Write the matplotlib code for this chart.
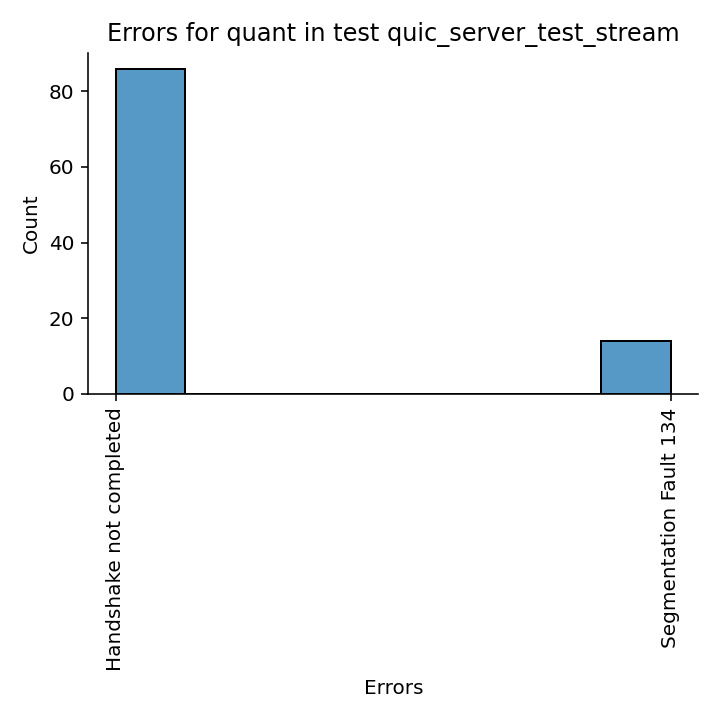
import matplotlib
matplotlib.use("Agg")
import matplotlib.pyplot as plt
import numpy as np

# error categories and how often each occurred
categories = ["Handshake not completed", "Segmentation Fault 134"]
counts = [86, 14]

codes = np.repeat(np.arange(len(categories)), counts)

fig, ax = plt.subplots(figsize=(5, 5), dpi=144)
ax.hist(codes, bins=8, facecolor=(0.122, 0.467, 0.706, 0.75),
        edgecolor="black", linewidth=1)

ax.set_xticks(np.arange(len(categories)))
ax.set_xticklabels(categories, rotation=90)
ax.set_xlabel("Errors")
ax.set_ylabel("Count")
ax.set_title("Errors for quant in test quic_server_test_stream")
ax.spines["top"].set_visible(False)
ax.spines["right"].set_visible(False)

fig.tight_layout()
fig.savefig("out.png")
